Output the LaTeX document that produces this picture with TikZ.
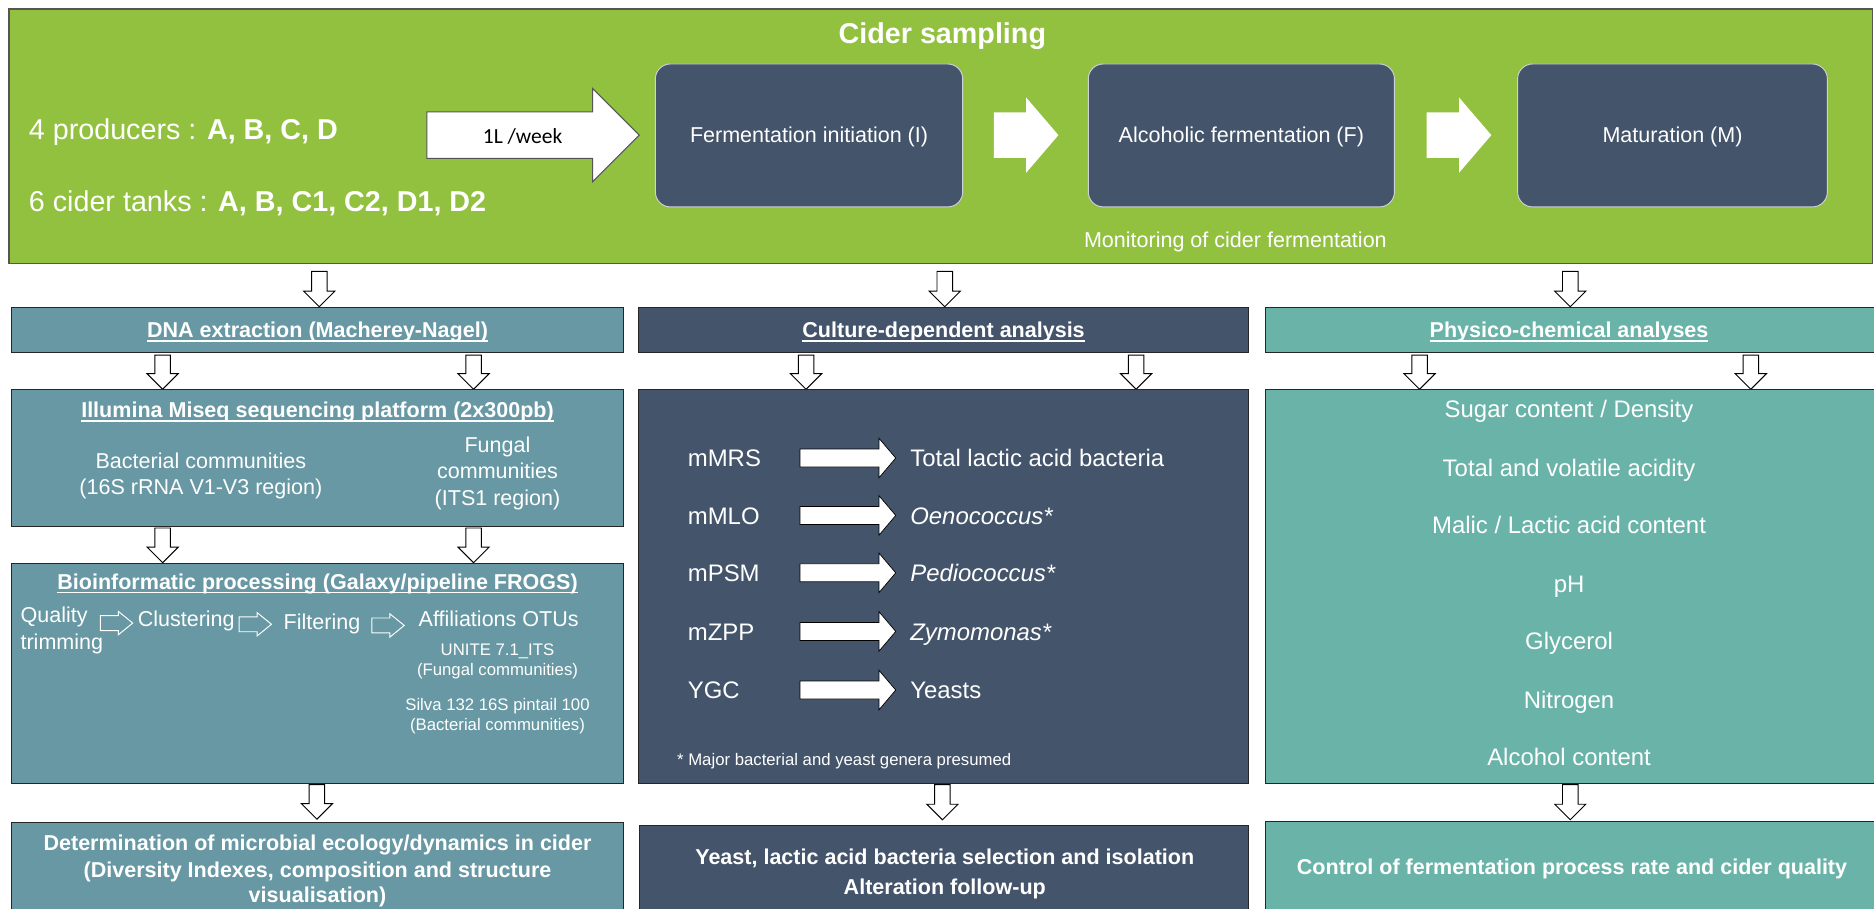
\documentclass[tikz,border=0pt]{standalone}
\usepackage{fontspec}
\setmainfont{Liberation Sans}
\newfontfamily\calib{Carlito}
\usetikzlibrary{fit}
\definecolor{cgreen}{RGB}{146,193,63}
\definecolor{cgborder}{RGB}{85,85,85}
\definecolor{cslate}{RGB}{68,84,106}
\definecolor{cleft}{RGB}{103,152,163}
\definecolor{cright}{RGB}{106,179,168}
\definecolor{cborder}{RGB}{38,38,38}
\definecolor{cround}{RGB}{205,210,215}
\newcommand\myul[1]{\setbox0\hbox{#1}\rlap{\rule[-3.2pt]{\wd0}{1.2pt}}\box0}
\newcommand\darr[3]{\draw[dnarrow] (#1-6.5,#2) -- (#1+6.5,#2) -- (#1+6.5,#3-13) -- (#1+13,#3-13) -- (#1,#3) -- (#1-13,#3-13) -- (#1-6.5,#3-13) -- cycle;}
\newcommand\rarr[7]{\draw[#1] (#2,#5-#6) -- (#3,#5-#6) -- (#3,#5-#7) -- (#4,#5) -- (#3,#5+#7) -- (#3,#5+#6) -- (#2,#5+#6) -- cycle;}
\tikzset{
  t14/.style={font=\fontsize{14}{17}\selectfont},
  t18/.style={font=\fontsize{18}{22}\selectfont},
  t18b/.style={font=\fontsize{18}{22}\selectfont\bfseries},
  t20/.style={font=\fontsize{20}{24}\selectfont},
  t24/.style={font=\fontsize{24}{29}\selectfont},
  t24b/.style={font=\fontsize{24}{29}\selectfont\bfseries},
  txt/.style={text=white, inner sep=0pt, anchor=base},
  txtw/.style={text=white, inner sep=0pt, anchor=base west},
  boxn/.style={inner sep=0pt, draw=cborder, line width=0.9pt},
  phase/.style={inner sep=0pt, draw=cround, line width=0.8pt, rounded corners=12.5pt, fill=cslate},
  dnarrow/.style={draw=black, fill=white, line width=0.8pt, line join=miter},
  bigarrow/.style={draw=cgborder, fill=white, line width=0.9pt, line join=miter},
  phasearrow/.style={fill=white, draw=none},
  carrow/.style={draw=black, fill=white, line width=0.6pt, line join=miter},
  smarrow/.style={draw=white, line width=0.8pt, line join=miter},
}
\begin{document}
\begin{tikzpicture}[x=1pt,y=-1pt]
\useasboundingbox (0,0) rectangle (1567,760);
\fill[white] (0,0) rectangle (1567,760);
\clip (0,0) rectangle (1567,760);

% ---------- top green box ----------
\node[boxn, draw=cgborder, fill=cgreen, fit={(7.5,7.5)(1566,220)}] (green) {};
\node[txt, t24b] (title) at (788,36) {Cider sampling};
\node[txtw, t24] (prod) at (24,116.6) {4 producers : \textbf{A, B, C, D}};
\node[txtw, t24] (tanks) at (24,176.5) {6 cider tanks : \textbf{A, B, C1, C2, D1, D2}};

\rarr{bigarrow}{357}{495.5}{534.5}{113}{19.5}{39}
\node[inner sep=0pt, anchor=base, font=\calib\fontsize{18}{22}\selectfont] (week) at (437,119.8) {1L /week};

\node[phase, fit={(548,53.5)(805,173)}] (ferm) {};
\node[phase, fit={(910,53.5)(1166,173)}] (alc) {};
\node[phase, fit={(1269,53.5)(1528,173)}] (mat) {};
\node[txt, t18] (fermt) at (676.5,119.5) {Fermentation initiation (I)};
\node[txt, t18] (alct) at (1038,119.5) {Alcoholic fermentation (F)};
\node[txt, t18] (matt) at (1398.5,119.5) {Maturation (M)};
\rarr{phasearrow}{831}{858}{885}{113}{19}{31.5}
\rarr{phasearrow}{1193}{1220}{1247}{113}{19}{31.5}
\node[txt, t18] (monit) at (1033,207) {Monitoring of cider fermentation};

% ---------- arrows from green box ----------
\darr{267}{227}{256.5}
\darr{790}{227}{256.5}
\darr{1313}{227}{256.5}

% ---------- row 2 headers ----------
\node[boxn, fill=cleft, fit={(10,257)(521,295)}] (dna) {};
\node[boxn, fill=cslate, fit={(534,257)(1044,295)}] (cult) {};
\node[boxn, fill=cright, fit={(1058,257)(1572,295)}] (phys) {};
\node[txt, t18b] (dnat) at (265.5,282.5) {\myul{DNA extraction (Macherey-Nagel)}};
\node[txt, t18b] (cultt) at (789,282.5) {\myul{Culture-dependent analysis}};
\node[txt, t18b] (physt) at (1312,282.5) {\myul{Physico-chemical analyses}};

\darr{136}{297}{325.5}
\darr{396}{297}{325.5}
\darr{674}{297}{325.5}
\darr{950}{297}{325.5}
\darr{1187}{297}{325.5}
\darr{1464}{297}{325.5}

% ---------- left column ----------
\node[boxn, fill=cleft, fit={(10,326)(521,440.5)}] (illu) {};
\node[txt, t18b] (illut) at (265.5,349.5) {\myul{Illumina Miseq sequencing platform (2x300pb)}};
\node[txt, t18] (bac1) at (168,391.5) {Bacterial communities};
\node[txt, t18] (bac2) at (168,413.5) {(16S rRNA V1-V3 region)};
\node[txt, t18] (fun1) at (416,378.5) {Fungal};
\node[txt, t18] (fun2) at (416,400.5) {communities};
\node[txt, t18] (fun3) at (416,422.5) {(ITS1 region)};

\darr{136}{441.5}{470.5}
\darr{396}{441.5}{470.5}

\node[boxn, fill=cleft, fit={(10,471)(521,655)}] (bioi) {};
\node[txt, t18b] (bioit) at (265.5,493) {\myul{Bioinformatic processing (Galaxy/pipeline FROGS)}};
\node[txtw, t18] (qual1) at (17,520.5) {Quality};
\node[txtw, t18] (qual2) at (17,543.5) {trimming};
\node[txtw, t18] (clus) at (115,523.5) {Clustering};
\node[txtw, t18] (filt) at (237,526.5) {Filtering};
\node[txt, t18] (affi) at (417,523.5) {Affiliations OTUs};
\rarr{smarrow}{84}{99}{111}{521}{6.25}{9.75}
\rarr{smarrow}{200}{215}{227}{522}{6.25}{9.75}
\rarr{smarrow}{311}{326}{338}{523}{6.25}{9.75}
\node[txt, t14] (unite) at (416,548.5) {UNITE 7.1\_ITS};
\node[txt, t14] (unite2) at (416,565) {(Fungal communities)};
\node[txt, t14] (silva) at (416,594.5) {Silva 132 16S pintail 100};
\node[txt, t14] (silva2) at (416,611) {(Bacterial communities)};

% ---------- middle column ----------
\node[boxn, fill=cslate, fit={(534,326)(1044,655)}] (cbig) {};
\foreach \y/\a/\b [count=\i] in {383/mMRS/{Total lactic acid bacteria}, 431/mMLO/{\textit{Oenococcus*}}, 479/mPSM/{\textit{Pediococcus*}}, 528/mZPP/{\textit{Zymomonas*}}, 577/YGC/Yeasts}{
  \node[txtw, t20] (cm\i) at (575,\y+7.2) {\a};
  \rarr{carrow}{669}{735}{749}{\y}{7.5}{16.5}
  \node[txtw, t20] (cr\i) at (761,\y+7.2) {\b};
}
\node[txtw, t14] (foot) at (566,640.5) {* Major bacterial and yeast genera presumed};

% ---------- right column ----------
\node[boxn, fill=cright, fit={(1058,326)(1572,655)}] (pbig) {};
\foreach \y/\t [count=\i] in {342/{Sugar content / Density}, 391/{Total and volatile acidity}, 439/{Malic / Lactic acid content}, 488/pH, 536/Glycerol, 585/Nitrogen, 633/{Alcohol content}}{
  \node[txt, t20] (pc\i) at (1312,\y+7.2) {\t};
}

% ---------- bottom row ----------
\darr{265}{656}{685}
\darr{788}{656}{685.5}
\darr{1313}{656}{685.5}
\node[boxn, fill=cleft, fit={(10,688)(521,775)}] (resl) {};
\node[boxn, fill=cslate, fit={(535,690)(1044,775)}] (resm) {};
\node[boxn, fill=cright, fit={(1058,687)(1572,775)}] (resr) {};
\node[txt, t18b] (rl1) at (265.5,711.5) {Determination of microbial ecology/dynamics in cider};
\node[txt, t18b] (rl2) at (265.5,734) {(Diversity Indexes, composition and structure};
\node[txt, t18b] (rl3) at (265.5,755) {visualisation)};
\node[txt, t18b] (rm1) at (790,723) {Yeast, lactic acid bacteria selection and isolation};
\node[txt, t18b] (rm2) at (790,748) {Alteration follow-up};
\node[txt, t18b] (rr1) at (1314.5,731.5) {Control of fermentation process rate and cider quality};
\end{tikzpicture}
\end{document}
